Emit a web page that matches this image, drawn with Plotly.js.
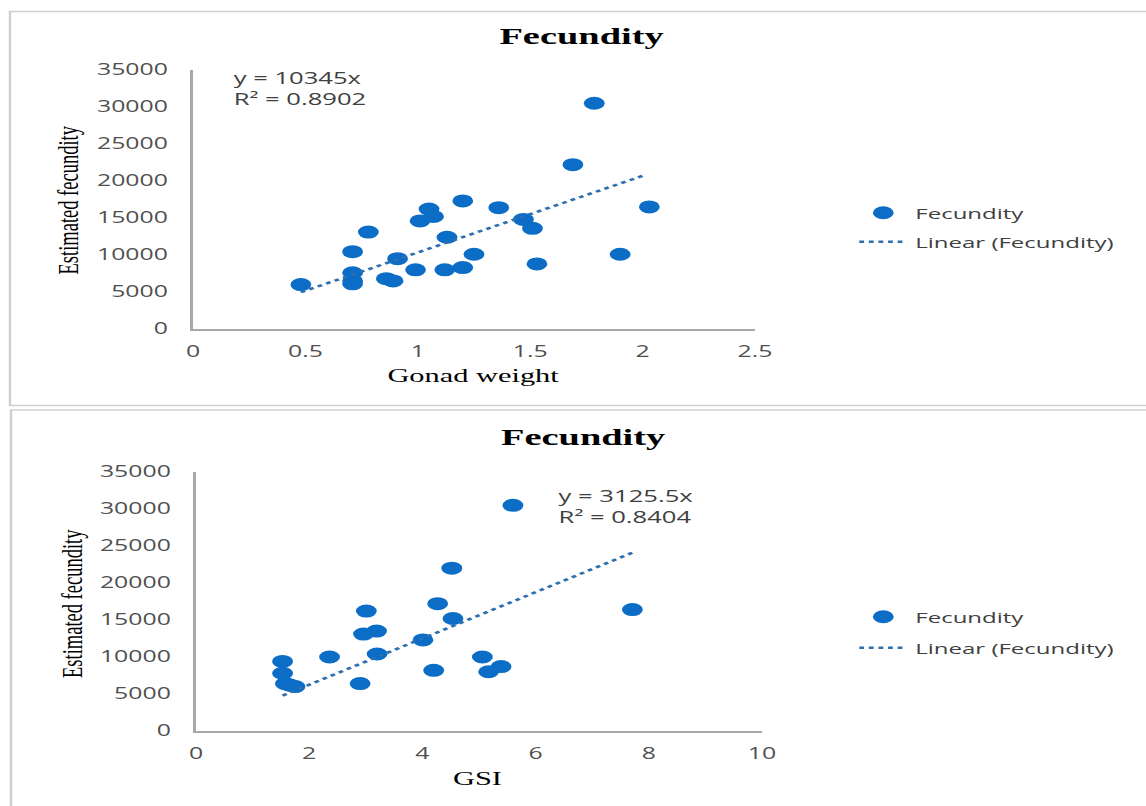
<!DOCTYPE html>
<html>
<head>
<meta charset="utf-8">
<script src="https://cdn.plot.ly/plotly-3.0.1.min.js"></script>
<style>
  html, body { margin: 0; padding: 0; background: #ffffff; overflow: hidden; }
  #wrap { width: 1146px; height: 806px; overflow: hidden; }
  #chart { width: 716px; height: 806px; transform: scaleX(1.6006); transform-origin: 0 0; }
</style>
</head>
<body>
<div id="wrap"><div id="chart"></div></div>
<script>
// ---- Data ----
const gonadWeight = [0.48, 0.71, 0.71, 0.71, 0.71, 0.78, 0.86, 0.89, 0.91, 0.99, 1.01, 1.05, 1.07, 1.12, 1.13, 1.20, 1.20, 1.25, 1.36, 1.47, 1.51, 1.53, 1.69, 1.785, 1.90, 2.03];
const fecundityGW = [6000, 10450, 7600, 6500, 6100, 13100, 6800, 6500, 9500, 8000, 14600, 16200, 15200, 8000, 12400, 17300, 8300, 10100, 16400, 14800, 13600, 8800, 22200, 30500, 10100, 16500];

const gsi = [1.53, 1.53, 1.58, 1.66, 1.75, 2.36, 2.90, 2.96, 3.01, 3.19, 3.20, 4.01, 4.20, 4.27, 4.52, 4.54, 5.06, 5.17, 5.39, 5.60, 7.71];
const fecundityGSI = [9400, 7800, 6400, 6200, 6000, 10000, 6400, 13100, 16200, 13500, 10400, 12300, 8200, 17200, 22000, 15200, 10000, 8000, 8700, 30500, 16400];

// Trendlines (through origin) as given by the chart's equations
const slopeGW = 10345;
const slopeGSI = 3125.5;
const trendXGW = [0.48, 2.0];
const trendXGSI = [1.53, 7.71];

const yTickVals = [0, 5000, 10000, 15000, 20000, 25000, 30000, 35000];
const yTickText = ["0", "5000", "10000", "15000", "20000", "25000", "30000", "35000"];
const xTickValsGW = [0, 0.5, 1, 1.5, 2, 2.5];
const xTickTextGW = ["0", "0.5", "1", "1.5", "2", "2.5"];
const xTickValsGSI = [0, 2, 4, 6, 8, 10];
const xTickTextGSI = ["0", "2", "4", "6", "8", "10"];

const titleText = "Fecundity";
const eqGW = "y = 10345x<br>R² = 0.8902";
const eqGSI = "y = 3125.5x<br>R² = 0.8404";
const xTitleGW = "Gonad weight";
const xTitleGSI = "GSI";
const yTitle = "Estimated fecundity";
const seriesName = "Fecundity";
const trendName = "Linear (Fecundity)";

// ---- Styles ----
const markerColor = "#0b6dc6";
const trendColor = "#2e6fae";
const tickFont = { family: "Open Sans", size: 15.5, color: "#505050" };
const serifTitle = { family: "Liberation Serif", size: 24, color: "#000000", weight: "bold" };
const serifAxis = { family: "Liberation Serif", size: 19, color: "#000000" };

const traces = [
  { type: "scatter", mode: "markers", x: gonadWeight, y: fecundityGW, name: seriesName,
    xaxis: "x", yaxis: "y", legend: "legend",
    marker: { color: markerColor, size: 13 } },
  { type: "scatter", mode: "lines", x: trendXGW, y: trendXGW.map(v => slopeGW * v), name: trendName,
    xaxis: "x", yaxis: "y", legend: "legend2",
    line: { color: trendColor, width: 2.5, dash: "dot" } },
  { type: "scatter", mode: "markers", x: gsi, y: fecundityGSI, name: seriesName,
    xaxis: "x2", yaxis: "y2", legend: "legend3",
    marker: { color: markerColor, size: 13 } },
  { type: "scatter", mode: "lines", x: trendXGSI, y: trendXGSI.map(v => slopeGSI * v), name: trendName,
    xaxis: "x2", yaxis: "y2", legend: "legend4",
    line: { color: trendColor, width: 2.5, dash: "dot" } }
];

const axisCommon = {
  showgrid: false, zeroline: false, showline: true, linecolor: "#a8a8a8", linewidth: 1.6,
  ticks: "", tickfont: tickFont, fixedrange: true, tickmode: "array"
};

const legendCommon = {
  bgcolor: "rgba(0,0,0,0)", borderwidth: 0, xanchor: "left", yanchor: "middle",
  font: { family: "Open Sans", size: 15, color: "#404040" }
};

const layout = {
  width: 716, height: 806,
  margin: { l: 0, r: 0, t: 0, b: 0 },
  paper_bgcolor: "#ffffff", plot_bgcolor: "#ffffff",
  showlegend: true,
  xaxis: Object.assign({}, axisCommon, { domain: [0.1684, 0.6588], range: [0, 2.5], tickvals: xTickValsGW, ticktext: xTickTextGW, ticklabelstandoff: 8, anchor: "y" }),
  yaxis: Object.assign({}, axisCommon, { domain: [0.5918, 0.9132], range: [0, 35000], tickvals: yTickVals, ticktext: yTickText, ticklabelstandoff: 11, anchor: "x" }),
  xaxis2: Object.assign({}, axisCommon, { domain: [0.1710, 0.6649], range: [0, 10], tickvals: xTickValsGSI, ticktext: xTickTextGSI, ticklabelstandoff: 8, anchor: "y2" }),
  yaxis2: Object.assign({}, axisCommon, { domain: [0.0931, 0.4144], range: [0, 35000], tickvals: yTickVals, ticktext: yTickText, ticklabelstandoff: 11, anchor: "x2" }),
  legend: Object.assign({}, legendCommon, { x: 0.7428, y: 0.7357 }),
  legend2: Object.assign({}, legendCommon, { x: 0.7428, y: 0.6998 }),
  legend3: Object.assign({}, legendCommon, { x: 0.7428, y: 0.2345 }),
  legend4: Object.assign({}, legendCommon, { x: 0.7428, y: 0.1960 }),
  shapes: [
    { type: "rect", xref: "paper", yref: "paper", x0: 0.0087, x1: 1.02, y0: 0.4969, y1: 0.9857,
      line: { color: "#cfcfcf", width: 1.5 }, fillcolor: "rgba(0,0,0,0)", layer: "below" },
    { type: "rect", xref: "paper", yref: "paper", x0: 0.0096, x1: 1.02, y0: -0.02, y1: 0.4913,
      line: { color: "#cfcfcf", width: 1.5 }, fillcolor: "rgba(0,0,0,0)", layer: "below" }
  ],
  annotations: [
    { text: titleText, xref: "paper", yref: "paper", x: 0.5079, y: 1 - 36 / 806, xanchor: "center", yanchor: "middle", showarrow: false, font: serifTitle },
    { text: titleText, xref: "paper", yref: "paper", x: 0.5088, y: 1 - 437 / 806, xanchor: "center", yanchor: "middle", showarrow: false, font: serifTitle },
    { text: eqGW, xref: "paper", yref: "paper", x: 0.2015, y: 1 - 89 / 806, xanchor: "left", yanchor: "middle", align: "left", showarrow: false, font: { family: "Open Sans", size: 16, color: "#404040" } },
    { text: eqGSI, xref: "paper", yref: "paper", x: 0.4845, y: 1 - 506 / 806, xanchor: "left", yanchor: "middle", align: "left", showarrow: false, font: { family: "Open Sans", size: 16, color: "#404040" } },
    { text: xTitleGW, xref: "paper", yref: "paper", x: 473 / 1146, y: 1 - 375 / 806, xanchor: "center", yanchor: "middle", showarrow: false, font: serifAxis },
    { text: xTitleGSI, xref: "paper", yref: "paper", x: 477 / 1146, y: 1 - 778 / 806, xanchor: "center", yanchor: "middle", showarrow: false, font: serifAxis },
    { text: yTitle, xref: "paper", yref: "paper", x: 68 / 1146, y: 1 - 200 / 806, xanchor: "center", yanchor: "middle", textangle: -90, showarrow: false, font: { family: "Liberation Serif", size: 18.5, color: "#000000" } },
    { text: yTitle, xref: "paper", yref: "paper", x: 72 / 1146, y: 1 - 603 / 806, xanchor: "center", yanchor: "middle", textangle: -90, showarrow: false, font: { family: "Liberation Serif", size: 18.5, color: "#000000" } }
  ]
};

Plotly.newPlot("chart", traces, layout, { displayModeBar: false, staticPlot: true });
</script>
</body>
</html>
